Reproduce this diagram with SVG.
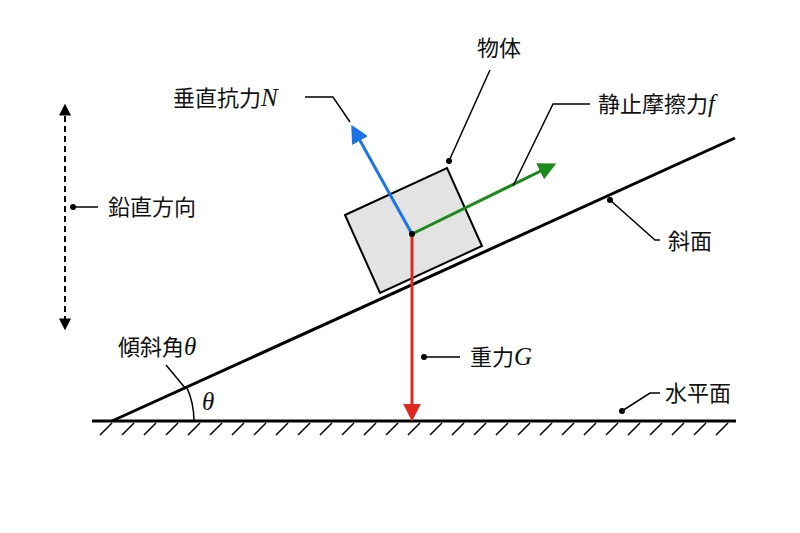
<svg xmlns="http://www.w3.org/2000/svg" width="800" height="533" viewBox="0 0 800 533">
<style>
text{font-family:"Noto Sans CJK JP","Liberation Sans",sans-serif;font-size:22px;fill:#111}
.m{font-family:"Liberation Serif",serif;font-style:italic;font-size:25px}
.l{stroke:#000;stroke-width:1.5;fill:none}
.t{stroke:#000;stroke-width:3;fill:none}
</style>
<defs>
<marker id="ab" viewBox="0 0 10 10" refX="8" refY="5" markerWidth="6" markerHeight="6" orient="auto"><path d="M0,0L10,5L0,10z" fill="#1a73e8"/></marker>
<marker id="ag" viewBox="0 0 10 10" refX="8" refY="5" markerWidth="6" markerHeight="6" orient="auto"><path d="M0,0L10,5L0,10z" fill="#1a8a1a"/></marker>
<marker id="ar" viewBox="0 0 10 10" refX="8" refY="5" markerWidth="6" markerHeight="6" orient="auto"><path d="M0,0L10,5L0,10z" fill="#e0281e"/></marker>
<marker id="ak" viewBox="0 0 10 10" refX="8" refY="5" markerWidth="6" markerHeight="6" orient="auto-start-reverse"><path d="M0,0L10,5L0,10z" fill="#000"/></marker>
</defs>
<g id="ground">
<line class="t" x1="92" y1="421" x2="736" y2="421"/>
<path class="l" d="M112,423l-12,12M134,423l-12,12M156,423l-12,12M178,423l-12,12M200,423l-12,12M222,423l-12,12M244,423l-12,12M266,423l-12,12M288,423l-12,12M310,423l-12,12M332,423l-12,12M354,423l-12,12M376,423l-12,12M398,423l-12,12M420,423l-12,12M442,423l-12,12M464,423l-12,12M486,423l-12,12M508,423l-12,12M530,423l-12,12M552,423l-12,12M574,423l-12,12M596,423l-12,12M618,423l-12,12M640,423l-12,12M662,423l-12,12M684,423l-12,12M706,423l-12,12M728,423l-12,12"/>
</g>
<g id="incline">
<line class="t" x1="112" y1="421" x2="735" y2="138"/>
<path class="l" d="M194,421A82,82 0 0 0 186.7,387.1"/>
<text class="m" x="202" y="410">θ</text>
</g>
<g id="block">
<polygon points="345,215 447,168 482,246 380,293" fill="#e3e3e3" stroke="#000" stroke-width="2"/>
</g>
<g id="forces">
<line x1="412" y1="234" x2="353" y2="128" stroke="#1a73e8" stroke-width="3" marker-end="url(#ab)"/>
<line x1="412" y1="234" x2="553" y2="165" stroke="#1a8a1a" stroke-width="3" marker-end="url(#ag)"/>
<line x1="412" y1="234" x2="412" y2="418" stroke="#e0281e" stroke-width="3" marker-end="url(#ar)"/>
<circle cx="412" cy="234" r="3" fill="#000"/>
</g>
<g id="vertical">
<line x1="65" y1="106" x2="65" y2="328" stroke="#000" stroke-width="2" stroke-dasharray="6,4" marker-start="url(#ak)" marker-end="url(#ak)"/>
</g>
<g id="connectors">
<circle cx="449" cy="161" r="3"/><path class="l" d="M449,161L490,70"/>
<path class="l" d="M305,97H333L350,122"/>
<path class="l" d="M590,104H553L513,186"/>
<circle cx="73" cy="207" r="3"/><path class="l" d="M73,207H98"/>
<circle cx="610" cy="200" r="3"/><path class="l" d="M610,200L655,240H660"/>
<circle cx="424" cy="357" r="3"/><path class="l" d="M424,357H460"/>
<circle cx="622" cy="411" r="3"/><path class="l" d="M622,411L650,393H660"/>
<path class="l" d="M166,365L186,389"/>
</g>
<g id="labels">
<text x="477" y="56">物体</text>
<text x="173" y="106">垂直抗力<tspan class="m">N</tspan></text>
<text x="598" y="112">静止摩擦力<tspan class="m">f</tspan></text>
<text x="108" y="215">鉛直方向</text>
<text x="668" y="249">斜面</text>
<text x="470" y="365">重力<tspan class="m">G</tspan></text>
<text x="665" y="401">水平面</text>
<text x="118" y="355">傾斜角<tspan class="m">θ</tspan></text>
</g>
</svg>
